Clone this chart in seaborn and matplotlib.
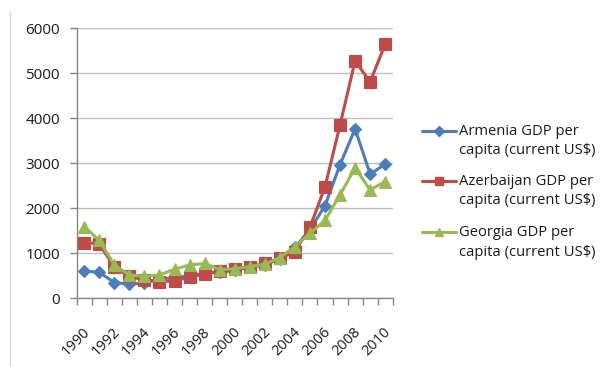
import numpy as np
import pandas as pd
import matplotlib
matplotlib.use("Agg")
import matplotlib.pyplot as plt
from matplotlib.lines import Line2D
from matplotlib.transforms import ScaledTranslation
import seaborn as sns

years = list(range(1990, 2011))

armenia = [607, 577, 350, 315, 335, 430, 460, 500, 560, 580, 620, 690, 740, 880,
           1130, 1520, 2060, 2970, 3765, 2760, 2980]
azerbaijan = [1236, 1210, 690, 485, 410, 372, 388, 468, 535, 612, 655, 705, 775, 888,
              1035, 1578, 2475, 3850, 5275, 4810, 5645]
georgia = [1595, 1285, 740, 520, 485, 520, 645, 740, 775, 640, 655, 705, 758, 905,
           1150, 1445, 1730, 2300, 2895, 2410, 2595]

series_names = ["Armenia GDP per\ncapita (current US$)",
                "Azerbaijan GDP per\ncapita (current US$)",
                "Georgia GDP per\ncapita (current US$)"]
series_values = [armenia, azerbaijan, georgia]
colors = ["#4A7EBB", "#BE4B48", "#98B954"]
markers = ["D", "s", "^"]
marker_sizes = [6.5, 8, 8.5]

y_ticks = [0, 1000, 2000, 3000, 4000, 5000, 6000]
x_label_years = list(range(1990, 2011, 2))

df = pd.DataFrame({
    "year": years * 3,
    "value": armenia + azerbaijan + georgia,
    "series": sum([[n] * len(years) for n in series_names], []),
})

sns.set_theme(style="white")
plt.rcParams["font.family"] = ["Open Sans", "DejaVu Sans"]

fig = plt.figure(figsize=(6.05, 3.67), dpi=100)
ax = fig.add_axes([76.7 / 605, 1 - 298.3 / 367, (392.7 - 76.7) / 605, (298.3 - 28.3) / 367])

for name, col, mk, ms in zip(series_names, colors, markers, marker_sizes):
    sns.lineplot(data=df[df["series"] == name], x="year", y="value", ax=ax,
                 color=col, marker=mk, markersize=ms, markeredgecolor=col,
                 markeredgewidth=0.8, linewidth=2.2, legend=False, zorder=3)

ax.set_xlim(1989.5, 2010.5)
ax.set_ylim(0, 6000)
ax.set_yticks(y_ticks)
ax.set_yticklabels([str(v) for v in y_ticks])
ax.set_xticks(np.arange(1989.5, 2011, 1.0))
ax.set_xticklabels([])
ax.set_xlabel("")
ax.set_ylabel("")

ax.grid(axis="y", color="#BEBEBE", linewidth=1.0, zorder=0)
ax.grid(axis="x", visible=False)
for side in ["top", "right"]:
    ax.spines[side].set_visible(False)
for side in ["left", "bottom"]:
    ax.spines[side].set_color("#868686")
    ax.spines[side].set_linewidth(1.0)

ax.tick_params(axis="y", which="major", length=5, width=1, color="#868686",
               direction="out", labelsize=11, labelcolor="#1a1a1a", pad=7, left=True)
ax.tick_params(axis="x", which="major", length=5, width=1, color="#868686",
               direction="out", bottom=True)

# rotated year labels under every other category
label_tf = ax.get_xaxis_transform() + ScaledTranslation(-2 / 100, -26 / 100, fig.dpi_scale_trans)
for yr in x_label_years:
    ax.text(yr, 0, str(yr), transform=label_tf, rotation=45, ha="right", va="top",
            rotation_mode="anchor", fontsize=10.5, color="#1a1a1a", clip_on=False)

# legend drawn to the right of the plot area
W, H = 605, 367
entry_y = [131, 181, 232]
for name, col, mk, ms, yy in zip(series_names, colors, markers, marker_sizes, entry_y):
    yf = 1 - yy / H
    fig.add_artist(Line2D([422 / W, 456 / W], [yf, yf], color=col, linewidth=2.2,
                          transform=fig.transFigure))
    fig.add_artist(Line2D([439 / W], [yf], color=col, marker=mk, markersize=ms * 0.75,
                          markeredgecolor=col, transform=fig.transFigure))
    first, second = name.split("\n")
    fig.text(459 / W, yf, first, ha="left", va="center", fontsize=10.6, color="#1a1a1a")
    fig.text(459 / W, 1 - (yy + 20) / H, second, ha="left", va="center", fontsize=10.6,
             color="#1a1a1a")

# chart frame edge
fig.add_artist(Line2D([9.5 / W, 9.5 / W], [0, 1 - 11 / H], color="#D9D9D9",
                      linewidth=1.0, transform=fig.transFigure))

fig.savefig("out.png", dpi=100)
